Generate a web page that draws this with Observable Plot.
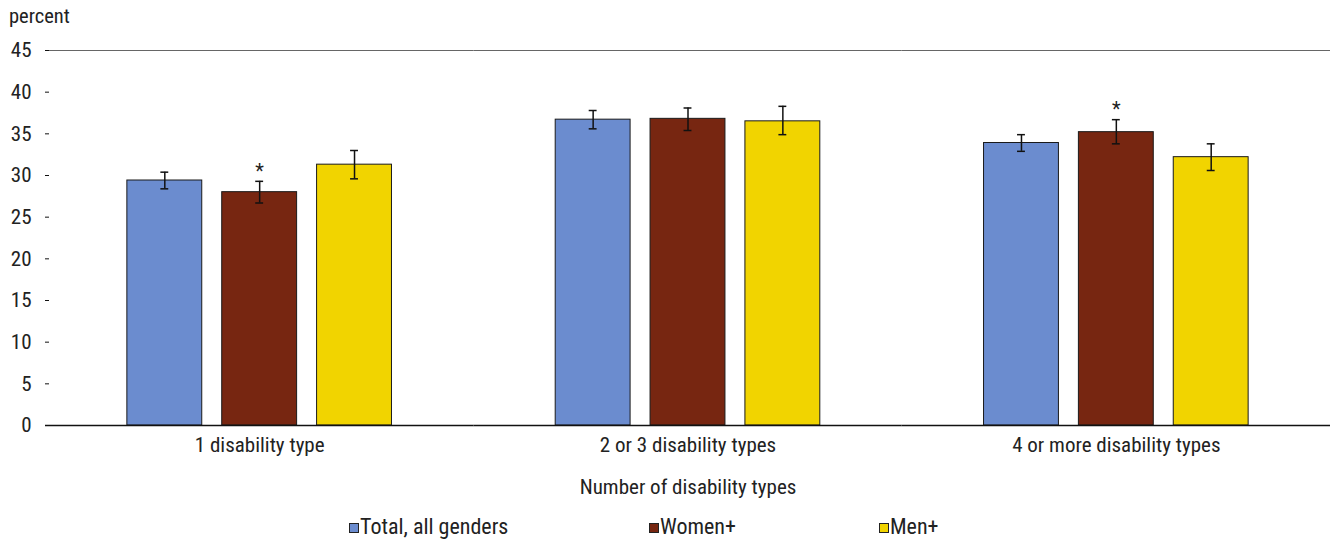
<!DOCTYPE html>
<html>
<head>
<meta charset="utf-8">
<script src="https://cdn.jsdelivr.net/npm/d3@7"></script>
<script src="https://cdn.jsdelivr.net/npm/@observablehq/plot@0.6"></script>
<style>
  body { margin: 0; background: #fff; font-family: "Liberation Sans Narrow", "Roboto Condensed", Roboto, sans-serif; color: #222; }
  #unit { height: 32px; line-height: 32px; padding-left: 9px; font-size: 20.5px; }
  #legend { position: relative; height: 34px; margin-top: 8px; font-size: 22px; }
  .item { position: absolute; top: 0; line-height: 34px; white-space: nowrap; }
  .sw { display: inline-block; width: 8px; height: 8px; border: 1px solid #222; margin-right: 1px; vertical-align: 1px; }
</style>
</head>
<body>
<div id="unit">percent</div>
<div id="chart"></div>
<div id="legend"></div>
<script>
// Categories and series
const groups = ["1 disability type", "2 or 3 disability types", "4 or more disability types"];
const series = ["Total, all genders", "Women+", "Men+"];
const colors = ["#6b8ccf", "#772611", "#f1d400"];

// Percent values per series (one entry per group)
const total = [29.4, 36.7, 33.9];
const women = [28.0, 36.8, 35.2];
const men   = [31.3, 36.5, 32.2];

// 95% confidence interval bounds
const totalLow  = [28.4, 35.6, 32.9];
const totalHigh = [30.4, 37.8, 34.9];
const womenLow  = [26.7, 35.4, 33.8];
const womenHigh = [29.3, 38.1, 36.7];
const menLow    = [29.6, 34.9, 30.6];
const menHigh   = [33.0, 38.3, 33.8];

// Significantly different from reference category (marked with *)
const womenFlag = [true, false, true];
const totalFlag = [false, false, false];
const menFlag   = [false, false, false];

const yTicks = [0, 5, 10, 15, 20, 25, 30, 35, 40, 45];

const valuesBySeries = [total, women, men];
const lowBySeries = [totalLow, womenLow, menLow];
const highBySeries = [totalHigh, womenHigh, menHigh];
const flagBySeries = [totalFlag, womenFlag, menFlag];

const rows = groups.flatMap((g, i) => series.map((s, j) => ({
  group: g,
  series: s,
  value: valuesBySeries[j][i],
  lo: lowBySeries[j][i],
  hi: highBySeries[j][i],
  flag: flagBySeries[j][i]
})));

const font = '"Liberation Sans Narrow", "Roboto Condensed", Roboto, sans-serif';

const chart = Plot.plot({
  width: 1330,
  height: 470,
  marginLeft: 45,
  marginRight: 0,
  marginTop: 18,
  marginBottom: 77,
  style: { fontFamily: font, fontSize: "21px", color: "#222", background: "#fff" },
  fx: { domain: groups, padding: 0, round: false },
  x: { domain: series, paddingInner: 0.2105, paddingOuter: 0.863, round: false, axis: null },
  y: { domain: [0, 45] },
  color: { domain: series, range: colors },
  marks: [
    Plot.ruleY([45], { stroke: "#666", strokeWidth: 1.2 }),
    Plot.barY(rows, { fx: "group", x: "series", y: "value", fill: "series", stroke: "#1a1a1a", strokeWidth: 1 }),
    Plot.ruleX(rows, { fx: "group", x: "series", y1: "lo", y2: "hi", stroke: "#111", strokeWidth: 1.5 }),
    Plot.tickY(rows, { fx: "group", x: "series", y: "lo", insetLeft: 33.5, insetRight: 33.5, stroke: "#111", strokeWidth: 1.5 }),
    Plot.tickY(rows, { fx: "group", x: "series", y: "hi", insetLeft: 33.5, insetRight: 33.5, stroke: "#111", strokeWidth: 1.5 }),
    Plot.text(rows.filter(d => d.flag), { fx: "group", x: "series", y: "hi", text: () => "*", dy: -10, fontSize: 20, fill: "#222" }),
    Plot.ruleY([0], { stroke: "#111", strokeWidth: 1.5 }),
    Plot.axisY({ ticks: yTicks, tickSize: -4, tickPadding: 18, line: true, label: null, fontSize: 21, stroke: "#111" }),
    Plot.axisFx({ anchor: "bottom", tickSize: 0, tickPadding: 12, fontSize: 21, label: null }),
    Plot.axisFx({ anchor: "bottom", tickSize: 0, ticks: [], fontSize: 21, dx: -15, label: "Number of disability types", labelAnchor: "center", labelOffset: 68 })
  ]
});
document.getElementById("chart").appendChild(chart);

// Legend below the chart
const legendLeft = [349, 649, 879];
const legend = document.getElementById("legend");
series.forEach((s, i) => {
  const item = document.createElement("span");
  item.className = "item";
  item.style.left = legendLeft[i] + "px";
  const sw = document.createElement("span");
  sw.className = "sw";
  sw.style.background = colors[i];
  item.appendChild(sw);
  item.appendChild(document.createTextNode(s));
  legend.appendChild(item);
});
</script>
</body>
</html>
